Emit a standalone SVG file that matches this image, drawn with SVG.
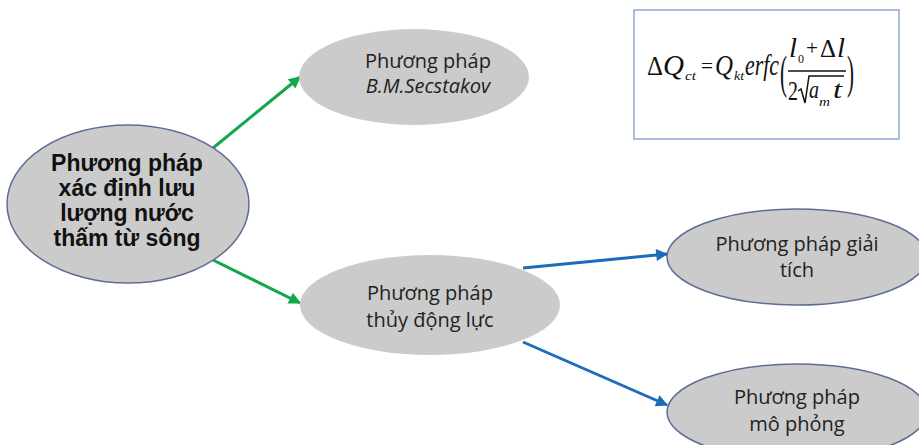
<svg xmlns="http://www.w3.org/2000/svg" width="919" height="445" viewBox="0 0 919 445">
  <style>
    .node { fill: #cbcbcb; }
    .edge { stroke: #5d6e96; stroke-width: 1.5; }
    .lbl { font-family: "Open Sans", "Liberation Sans", sans-serif; font-size: 20px; fill: #222; text-anchor: middle; }
    .main { font-family: "Liberation Sans", Arial, sans-serif; font-weight: bold; font-size: 23px; fill: #111; text-anchor: middle; }
    .green { stroke: #13a64a; stroke-width: 3; fill: none; marker-end: url(#ahG); }
    .blue { stroke: #1c6cbc; stroke-width: 3; fill: none; marker-end: url(#ahB); }
    .fx { font-family: "Liberation Serif", "Times New Roman", serif; fill: #111; }
    .it { font-style: italic; }
  </style>
  <defs>
    <marker id="ahG" viewBox="0 0 10 10" refX="9" refY="5" markerWidth="4.5" markerHeight="4" orient="auto" markerUnits="strokeWidth">
      <path d="M0,0 L10,5 L0,10 z" fill="#13a64a"/>
    </marker>
    <marker id="ahB" viewBox="0 0 10 10" refX="9" refY="5" markerWidth="4.5" markerHeight="4" orient="auto" markerUnits="strokeWidth">
      <path d="M0,0 L10,5 L0,10 z" fill="#1c6cbc"/>
    </marker>
  </defs>

  <rect width="919" height="445" fill="#ffffff"/>

  <!-- connectors -->
  <g id="connectors">
    <line class="green" x1="213" y1="148" x2="300" y2="77"/>
    <line class="green" x1="213" y1="260" x2="300" y2="303"/>
    <line class="blue" x1="523" y1="268" x2="667" y2="254"/>
    <line class="blue" x1="523" y1="342" x2="667" y2="405"/>
  </g>

  <!-- root node -->
  <g id="root">
    <ellipse class="node edge" cx="128" cy="204" rx="121" ry="79"/>
    <text class="main" x="127" y="171">Phương pháp</text>
    <text class="main" x="127" y="196">xác định lưu</text>
    <text class="main" x="127" y="221">lượng nước</text>
    <text class="main" x="127" y="246">thấm từ sông</text>
  </g>

  <g id="secstakov">
    <ellipse class="node" cx="414" cy="77" rx="115" ry="48"/>
    <text class="lbl" x="428" y="68">Phương pháp</text>
    <text class="lbl" x="428" y="93" font-style="italic">B.M.Secstakov</text>
  </g>

  <g id="thuy-dong-luc">
    <ellipse class="node" cx="430" cy="305" rx="130" ry="50"/>
    <text class="lbl" x="430" y="300">Phương pháp</text>
    <text class="lbl" x="430" y="327">thủy động lực</text>
  </g>

  <g id="giai-tich">
    <ellipse class="node edge" cx="797" cy="257" rx="130" ry="48"/>
    <text class="lbl" x="797" y="251">Phương pháp giải</text>
    <text class="lbl" x="797" y="277">tích</text>
  </g>

  <g id="mo-phong">
    <ellipse class="node edge" cx="797" cy="412" rx="130" ry="48"/>
    <text class="lbl" x="797" y="404" font-size="23">Phương pháp</text>
    <text class="lbl" x="797" y="431" font-size="23">mô phỏng</text>
  </g>

  <!-- formula box: ΔQct = Qkt erfc((l0 + Δl) / (2√(am t))) -->
  <g id="formula">
    <rect x="634" y="10" width="265" height="129" fill="#ffffff" stroke="#8fa9d2" stroke-width="1.5"/>
    <text class="fx" x="647" y="75" font-size="28" textLength="16" lengthAdjust="spacingAndGlyphs">Δ</text>
    <text class="fx it" x="663" y="75" font-size="30" textLength="21" lengthAdjust="spacingAndGlyphs">Q</text>
    <text class="fx it" x="685" y="80" font-size="13" textLength="11" lengthAdjust="spacingAndGlyphs">ct</text>
    <text class="fx" x="701" y="73" font-size="22" textLength="12" lengthAdjust="spacingAndGlyphs">=</text>
    <text class="fx it" x="715" y="75" font-size="30" textLength="18" lengthAdjust="spacingAndGlyphs">Q</text>
    <text class="fx it" x="734" y="80" font-size="13" textLength="10" lengthAdjust="spacingAndGlyphs">kt</text>
    <text class="fx it" x="745" y="75" font-size="30" textLength="34" lengthAdjust="spacingAndGlyphs">erfc</text>
    <text class="fx" x="780" y="88" font-size="46" textLength="7" lengthAdjust="spacingAndGlyphs">(</text>
    <!-- numerator -->
    <text class="fx it" x="789" y="57" font-size="28" textLength="8" lengthAdjust="spacingAndGlyphs">l</text>
    <text class="fx" x="798" y="63" font-size="12" textLength="6" lengthAdjust="spacingAndGlyphs">0</text>
    <text class="fx" x="806" y="55" font-size="22" textLength="12" lengthAdjust="spacingAndGlyphs">+</text>
    <text class="fx" x="820" y="57" font-size="26" textLength="16" lengthAdjust="spacingAndGlyphs">Δ</text>
    <text class="fx it" x="837" y="57" font-size="28" textLength="8" lengthAdjust="spacingAndGlyphs">l</text>
    <line x1="788" y1="71" x2="846" y2="71" stroke="#111" stroke-width="1.6"/>
    <!-- denominator -->
    <text class="fx" x="788" y="100" font-size="28" textLength="10" lengthAdjust="spacingAndGlyphs">2</text>
    <path d="M798,91 L801,89 L805,103 L809,76 L844,76" fill="none" stroke="#111" stroke-width="1.5"/>
    <text class="fx it" x="809" y="98" font-size="26" textLength="10" lengthAdjust="spacingAndGlyphs">a</text>
    <text class="fx it" x="819" y="106" font-size="13" textLength="11" lengthAdjust="spacingAndGlyphs">m</text>
    <text class="fx it" x="833" y="98" font-size="26" textLength="9" lengthAdjust="spacingAndGlyphs">t</text>
    <text class="fx" x="847" y="88" font-size="46" textLength="7" lengthAdjust="spacingAndGlyphs">)</text>
  </g>
</svg>
